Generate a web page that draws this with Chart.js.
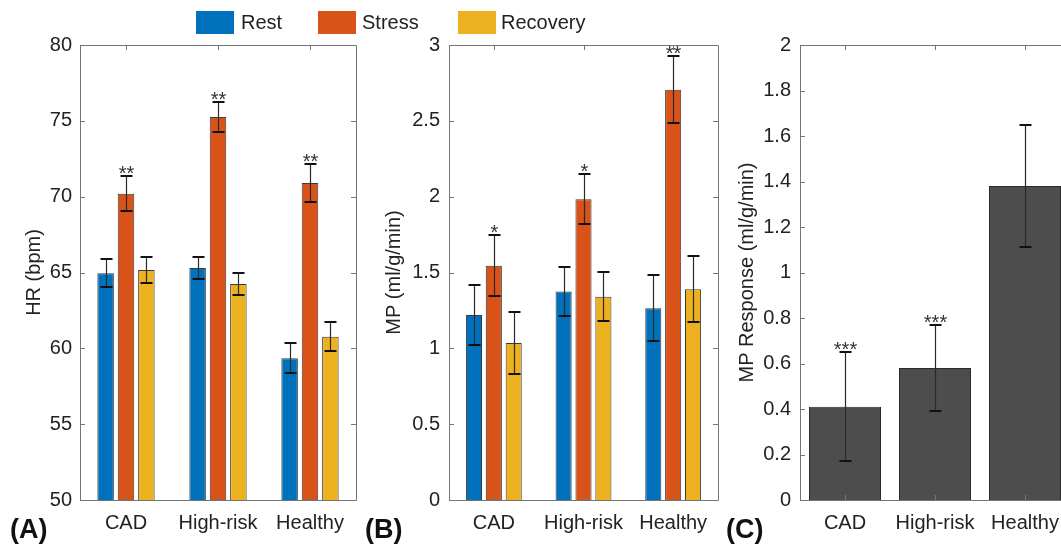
<!DOCTYPE html>
<html>
<head>
<meta charset="utf-8">
<script src="https://cdn.jsdelivr.net/npm/chart.js@4.4.1/dist/chart.umd.min.js"></script>
<style>
  html, body { margin: 0; padding: 0; width: 1061px; height: 545px; overflow: hidden; background: #fff; }
  canvas { position: absolute; top: 0; }
  .key { position: absolute; top: 11px; width: 38px; height: 23px; }
  .keyText { position: absolute; top: 12px; font: 20px "Liberation Sans", Arial, sans-serif; line-height: 20px; color: #222; white-space: nowrap; }
</style>
</head>
<body>
<canvas id="hr" width="360" height="545" style="left:0px"></canvas>
<canvas id="mp" width="360" height="545" style="left:360px"></canvas>
<canvas id="resp" width="360" height="545" style="left:720px"></canvas>
<div id="legend"></div>
<script>
// Patient groups
const groups = ['CAD', 'High-risk', 'Healthy'];
const phases = ['Rest', 'Stress', 'Recovery'];

// Heart rate (bpm): mean and error
const hrRest = [64.95, 65.3, 59.35];
const hrRestErr = [0.92, 0.72, 1.0];
const hrStress = [70.2, 75.25, 70.9];
const hrStressErr = [1.15, 0.97, 1.23];
const hrRecovery = [65.17, 64.25, 60.77];
const hrRecoveryErr = [0.88, 0.72, 0.97];
const hrStars = ['**', '**', '**'];

// Myocardial perfusion (ml/g/min): mean and error
const mpRest = [1.22, 1.375, 1.265];
const mpRestErr = [0.2, 0.162, 0.217];
const mpStress = [1.545, 1.983, 2.705];
const mpStressErr = [0.2, 0.165, 0.22];
const mpRecovery = [1.035, 1.34, 1.39];
const mpRecoveryErr = [0.205, 0.162, 0.217];
const mpStars = ['*', '*', '**'];

// Perfusion response (stress - rest)
const respValues = [0.41, 0.58, 1.38];
const respErr = [0.24, 0.19, 0.27];
const respStars = ['***', '***', ''];

const phaseColors = ['#0072BD', '#D95319', '#EDB120'];
const FONT = '"Liberation Sans", Arial, sans-serif';
const TEXT = '#222';

// Legend shared by the two grouped panels
const legendPos = [{box: 196, text: 241}, {box: 318, text: 362}, {box: 458, text: 501}];
const legendEl = document.getElementById('legend');
phases.forEach((p, i) => {
  const b = document.createElement('div');
  b.className = 'key';
  b.style.left = legendPos[i].box + 'px';
  b.style.background = phaseColors[i];
  legendEl.appendChild(b);
  const t = document.createElement('div');
  t.className = 'keyText';
  t.style.left = legendPos[i].text + 'px';
  t.textContent = p;
  legendEl.appendChild(t);
});

// Box around the plot area with inward tick marks on every side
const framePlugin = {
  id: 'frame',
  afterDatasetsDraw(chart) {
    const {ctx, chartArea: a, scales: {x, y}} = chart;
    const tl = 5;
    ctx.save();
    ctx.strokeStyle = '#767676';
    ctx.lineWidth = 1;
    ctx.beginPath();
    ctx.rect(Math.round(a.left) + 0.5, Math.round(a.top) + 0.5,
             Math.round(a.right - a.left), Math.round(a.bottom - a.top));
    y.ticks.forEach((t, i) => {
      const py = Math.round(y.getPixelForTick(i)) + 0.5;
      ctx.moveTo(a.left, py); ctx.lineTo(a.left + tl, py);
      ctx.moveTo(a.right, py); ctx.lineTo(a.right - tl, py);
    });
    x.ticks.forEach((t, i) => {
      const px = Math.round(x.getPixelForTick(i)) + 0.5;
      ctx.moveTo(px, a.bottom); ctx.lineTo(px, a.bottom - tl);
      ctx.moveTo(px, a.top); ctx.lineTo(px, a.top + tl);
    });
    ctx.stroke();
    ctx.restore();
  }
};

// Error bars and significance marks, placed through the value scale
const errorPlugin = {
  id: 'errorBars',
  afterDatasetsDraw(chart) {
    const {ctx, scales: {y}} = chart;
    ctx.save();
    ctx.font = '20px ' + FONT;
    const m = ctx.measureText('*');
    chart.data.datasets.forEach((ds, di) => {
      const meta = chart.getDatasetMeta(di);
      meta.data.forEach((bar, i) => {
        const v = ds.data[i], e = ds.errors[i];
        const px = Math.round(bar.x) + 0.5;
        const hi = Math.round(y.getPixelForValue(v + e));
        const lo = Math.round(y.getPixelForValue(v - e));
        ctx.strokeStyle = '#2a2a2a';
        ctx.lineWidth = 1.2;
        ctx.beginPath();
        ctx.moveTo(px, hi); ctx.lineTo(px, lo);
        ctx.stroke();
        ctx.strokeStyle = '#111';
        ctx.lineWidth = 2;
        ctx.beginPath();
        ctx.moveTo(px - 6, hi); ctx.lineTo(px + 6, hi);
        ctx.moveTo(px - 6, lo); ctx.lineTo(px + 6, lo);
        ctx.stroke();
        const s = ds.stars ? ds.stars[i] : '';
        if (s) {
          ctx.fillStyle = '#333';
          ctx.textAlign = 'center';
          ctx.textBaseline = 'alphabetic';
          const glyphBottom = hi - 2;
          ctx.fillText(s, px, glyphBottom - m.actualBoundingBoxDescent);
        }
      });
    });
    ctx.restore();
  }
};

// Panel letter in the lower left corner
const tagPlugin = {
  id: 'tag',
  afterDraw(chart, args, opts) {
    const ctx = chart.ctx;
    ctx.save();
    ctx.font = 'bold 27px ' + FONT;
    ctx.fillStyle = '#111';
    ctx.textAlign = 'left';
    ctx.textBaseline = 'alphabetic';
    ctx.fillText(opts.text, opts.x, 538);
    ctx.restore();
  }
};

// Plain tick numbers: 1 rather than 1.0
const plainNumber = v => String(Math.round(v * 100) / 100);

function panel(id, datasets, yOpts, geom) {
  return new Chart(document.getElementById(id), {
    type: 'bar',
    data: {labels: groups, datasets},
    options: {
      responsive: false,
      animation: false,
      events: [],
      layout: {padding: {top: 45, right: geom.right, left: 0, bottom: 0}},
      plugins: {legend: {display: false}, tooltip: {enabled: false}, tag: {text: geom.tag, x: geom.tagX}},
      datasets: {bar: geom.bar},
      scales: {
        x: {
          grid: {display: false, drawTicks: false},
          border: {display: false},
          ticks: {font: {family: FONT, size: 20}, color: TEXT, padding: 11, maxRotation: 0, autoSkip: false},
          afterFit(s) { s.height = 45; }
        },
        y: {
          min: yOpts.min, max: yOpts.max,
          grid: {display: false, drawTicks: false},
          border: {display: false},
          ticks: {stepSize: yOpts.step, font: {family: FONT, size: 20}, color: TEXT, padding: geom.tickPad,
                  callback: plainNumber},
          title: {display: true, text: yOpts.title, font: {family: FONT, size: 20}, color: TEXT,
                  padding: {top: geom.titlePad, bottom: 0}},
          afterFit(s) { s.width = geom.axisW; }
        }
      }
    },
    plugins: [framePlugin, errorPlugin, tagPlugin]
  });
}

const groupedBar = {categoryPercentage: 0.665, barPercentage: 0.81, borderWidth: 1, borderColor: '#3a3a3a'};

panel('hr', [
  {label: 'Rest', data: hrRest, errors: hrRestErr, backgroundColor: phaseColors[0]},
  {label: 'Stress', data: hrStress, errors: hrStressErr, stars: hrStars, backgroundColor: phaseColors[1]},
  {label: 'Recovery', data: hrRecovery, errors: hrRecoveryErr, backgroundColor: phaseColors[2]}
], {min: 50, max: 80, step: 5, title: 'HR (bpm)'},
   {right: 4, axisW: 80, tickPad: 8, titlePad: 22, tag: '(A)', tagX: 10, bar: groupedBar});

panel('mp', [
  {label: 'Rest', data: mpRest, errors: mpRestErr, backgroundColor: phaseColors[0]},
  {label: 'Stress', data: mpStress, errors: mpStressErr, stars: mpStars, backgroundColor: phaseColors[1]},
  {label: 'Recovery', data: mpRecovery, errors: mpRecoveryErr, backgroundColor: phaseColors[2]}
], {min: 0, max: 3, step: 0.5, title: 'MP (ml/g/min)'},
   {right: 2, axisW: 89, tickPad: 9, titlePad: 22, tag: '(B)', tagX: 5, bar: groupedBar});

panel('resp', [
  {label: 'MP Response', data: respValues, errors: respErr, stars: respStars, backgroundColor: '#4d4d4d'}
], {min: 0, max: 2, step: 0.2, title: 'MP Response (ml/g/min)'},
   {right: 10, axisW: 80, tickPad: 9, titlePad: 15, tag: '(C)', tagX: 6,
    bar: {categoryPercentage: 1, barPercentage: 0.8, borderWidth: 1, borderColor: '#2a2a2a'}});
</script>
</body>
</html>
